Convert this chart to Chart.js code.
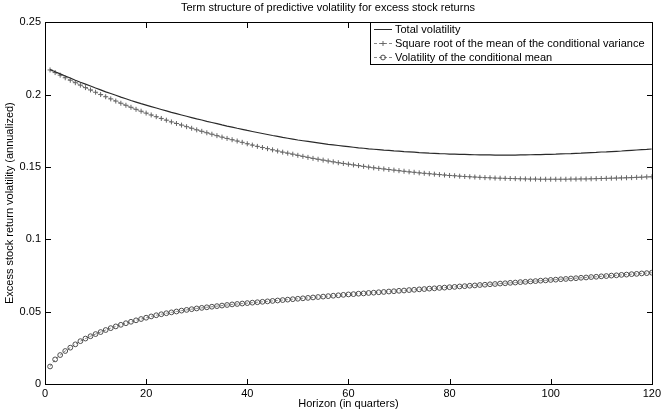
<!DOCTYPE html>
<html>
<head>
<meta charset="utf-8">
<script src="https://cdn.jsdelivr.net/npm/chart.js@4/dist/chart.umd.min.js"></script>
<style>
  html, body { margin: 0; padding: 0; background: #fff; }
  #wrap { position: relative; width: 664px; height: 413px; }
  #volChart, #frameLayer { position: absolute; left: 0; top: 0; }
  #frameLayer { pointer-events: none; }
</style>
</head>
<body>
<div id="wrap">
  <canvas id="volChart" width="664" height="413"></canvas>
  <canvas id="frameLayer" width="664" height="413"></canvas>
</div>
<script>
// horizon in quarters
const horizon = [
  1, 2, 3, 4, 5, 6, 7, 8, 9, 10, 11, 12, 13, 14, 15, 16, 17, 18, 19, 20,
  21, 22, 23, 24, 25, 26, 27, 28, 29, 30, 31, 32, 33, 34, 35, 36, 37, 38, 39, 40,
  41, 42, 43, 44, 45, 46, 47, 48, 49, 50, 51, 52, 53, 54, 55, 56, 57, 58, 59, 60,
  61, 62, 63, 64, 65, 66, 67, 68, 69, 70, 71, 72, 73, 74, 75, 76, 77, 78, 79, 80,
  81, 82, 83, 84, 85, 86, 87, 88, 89, 90, 91, 92, 93, 94, 95, 96, 97, 98, 99, 100,
  101, 102, 103, 104, 105, 106, 107, 108, 109, 110, 111, 112, 113, 114, 115, 116, 117, 118, 119, 120
];

const totalVol = [
  0.2173, 0.2158, 0.2143, 0.2128, 0.2114, 0.2099, 0.2085, 0.2072, 0.2059, 0.2045,
  0.2032, 0.2019, 0.2007, 0.1995, 0.1982, 0.1971, 0.1959, 0.1948, 0.1937, 0.1927,
  0.1917, 0.1907, 0.1897, 0.1887, 0.1877, 0.1868, 0.1859, 0.1850, 0.1841, 0.1832,
  0.1824, 0.1815, 0.1807, 0.1799, 0.1790, 0.1782, 0.1775, 0.1767, 0.1760, 0.1752,
  0.1745, 0.1738, 0.1731, 0.1724, 0.1717, 0.1711, 0.1704, 0.1698, 0.1692, 0.1686,
  0.1681, 0.1676, 0.1671, 0.1666, 0.1661, 0.1656, 0.1652, 0.1648, 0.1644, 0.1640,
  0.1636, 0.1632, 0.1629, 0.1625, 0.1622, 0.1619, 0.1616, 0.1614, 0.1611, 0.1609,
  0.1606, 0.1604, 0.1602, 0.1599, 0.1597, 0.1595, 0.1594, 0.1592, 0.1591, 0.1589,
  0.1588, 0.1587, 0.1586, 0.1585, 0.1584, 0.1583, 0.1583, 0.1583, 0.1582, 0.1582,
  0.1582, 0.1582, 0.1582, 0.1583, 0.1583, 0.1584, 0.1585, 0.1585, 0.1586, 0.1587,
  0.1588, 0.1590, 0.1591, 0.1592, 0.1594, 0.1595, 0.1597, 0.1599, 0.1600, 0.1603,
  0.1604, 0.1606, 0.1608, 0.1610, 0.1613, 0.1615, 0.1617, 0.1619, 0.1621, 0.1624
];

const sqrtMeanVar = [
  0.2170, 0.2152, 0.2134, 0.2116, 0.2099, 0.2082, 0.2065, 0.2048, 0.2032, 0.2016,
  0.2000, 0.1985, 0.1970, 0.1955, 0.1940, 0.1926, 0.1912, 0.1898, 0.1885, 0.1872,
  0.1859, 0.1847, 0.1835, 0.1823, 0.1811, 0.1800, 0.1789, 0.1778, 0.1767, 0.1756,
  0.1746, 0.1736, 0.1726, 0.1716, 0.1706, 0.1697, 0.1688, 0.1679, 0.1670, 0.1660,
  0.1651, 0.1642, 0.1634, 0.1626, 0.1618, 0.1610, 0.1602, 0.1595, 0.1588, 0.1580,
  0.1573, 0.1566, 0.1559, 0.1553, 0.1547, 0.1541, 0.1535, 0.1529, 0.1524, 0.1519,
  0.1514, 0.1509, 0.1504, 0.1499, 0.1494, 0.1490, 0.1486, 0.1482, 0.1478, 0.1474,
  0.1470, 0.1466, 0.1463, 0.1459, 0.1456, 0.1453, 0.1450, 0.1447, 0.1444, 0.1441,
  0.1439, 0.1436, 0.1434, 0.1432, 0.1430, 0.1428, 0.1426, 0.1425, 0.1423, 0.1422,
  0.1421, 0.1420, 0.1419, 0.1418, 0.1417, 0.1416, 0.1416, 0.1415, 0.1415, 0.1415,
  0.1415, 0.1415, 0.1415, 0.1416, 0.1416, 0.1417, 0.1417, 0.1418, 0.1419, 0.1420,
  0.1421, 0.1422, 0.1423, 0.1424, 0.1425, 0.1426, 0.1428, 0.1429, 0.1431, 0.1432
];

const volCondMean = [
  0.0121, 0.0170, 0.0200, 0.0228, 0.0251, 0.0274, 0.0296, 0.0314, 0.0330, 0.0345,
  0.0359, 0.0373, 0.0386, 0.0398, 0.0409, 0.0420, 0.0430, 0.0440, 0.0449, 0.0458,
  0.0467, 0.0475, 0.0482, 0.0489, 0.0495, 0.0501, 0.0507, 0.0512, 0.0517, 0.0522,
  0.0526, 0.0530, 0.0534, 0.0538, 0.0542, 0.0546, 0.0550, 0.0553, 0.0556, 0.0559,
  0.0562, 0.0565, 0.0568, 0.0571, 0.0574, 0.0577, 0.0580, 0.0583, 0.0586, 0.0589,
  0.0592, 0.0595, 0.0598, 0.0601, 0.0604, 0.0607, 0.0610, 0.0613, 0.0616, 0.0619,
  0.0621, 0.0624, 0.0626, 0.0629, 0.0631, 0.0634, 0.0636, 0.0639, 0.0641, 0.0644,
  0.0646, 0.0649, 0.0651, 0.0654, 0.0656, 0.0659, 0.0661, 0.0664, 0.0666, 0.0669,
  0.0671, 0.0674, 0.0676, 0.0679, 0.0681, 0.0684, 0.0686, 0.0689, 0.0691, 0.0694,
  0.0696, 0.0699, 0.0701, 0.0704, 0.0706, 0.0709, 0.0711, 0.0714, 0.0716, 0.0719,
  0.0721, 0.0724, 0.0726, 0.0729, 0.0731, 0.0734, 0.0736, 0.0739, 0.0741, 0.0744,
  0.0746, 0.0749, 0.0751, 0.0754, 0.0756, 0.0759, 0.0761, 0.0764, 0.0766, 0.0769
];

const seriesNames = [
  "Total volatility",
  "Square root of the mean of the conditional variance",
  "Volatility of the conditional mean"
];
const xTicks = [0, 20, 40, 60, 80, 100, 120];
const yTicks = [0, 0.05, 0.1, 0.15, 0.2, 0.25];

const FONT = "'Liberation Sans', Arial, Helvetica, sans-serif";
Chart.defaults.font.family = FONT;
Chart.defaults.font.size = 11;
Chart.defaults.color = "#000";

const LEGEND_LEFT = 370;
const LEGEND_BOTTOM = 64;

function toPoints(values) {
  return values.map((v, i) => ({ x: horizon[i], y: v }));
}

// axes box + inward ticks go on a separate canvas laid over the chart
function drawFrame(chart) {
  const layer = document.getElementById("frameLayer");
  const ctx = layer.getContext("2d");
  const a = chart.chartArea;
  const sx = chart.scales.x, sy = chart.scales.y;
  const L = Math.round(a.left), R = Math.round(a.right);
  const T = Math.round(a.top), B = Math.round(a.bottom);
  ctx.clearRect(0, 0, layer.width, layer.height);
  ctx.fillStyle = "#000";
  ctx.fillRect(L, T, R - L + 1, 1);
  ctx.fillRect(L, B, R - L + 1, 1);
  ctx.fillRect(L, T, 1, B - T + 1);
  ctx.fillRect(R, T, 1, B - T + 1);
  xTicks.forEach((v) => {
    const px = Math.round(sx.getPixelForValue(v));
    ctx.fillRect(px, B - 5, 1, 5);
    if (px < LEGEND_LEFT) ctx.fillRect(px, T + 1, 1, 5);
  });
  yTicks.forEach((v) => {
    const py = Math.round(sy.getPixelForValue(v));
    ctx.fillRect(L + 1, py, 5, 1);
    if (py > LEGEND_BOTTOM) ctx.fillRect(R - 5, py, 5, 1);
  });
}

// legend box in the upper right corner of the axes
const legendBoxPlugin = {
  id: "legendBox",
  afterDraw(chart) {
    const { ctx, chartArea: a } = chart;
    const T = Math.round(a.top) + 0.5, R = Math.round(a.right) + 0.5;
    const boxL = LEGEND_LEFT + 0.5, boxB = LEGEND_BOTTOM + 0.5;
    ctx.save();
    ctx.fillStyle = "#fff";
    ctx.fillRect(boxL, T, R - boxL, boxB - T);
    ctx.strokeStyle = "#000";
    ctx.lineWidth = 1;
    ctx.strokeRect(boxL, T, R - boxL, boxB - T);
    ctx.font = "11px " + FONT;
    ctx.textBaseline = "middle";
    ctx.textAlign = "left";
    chart.data.datasets.forEach((ds, i) => {
      const y = T + 7 + i * 14;
      ctx.strokeStyle = ds.borderColor;
      ctx.lineWidth = 1;
      ctx.setLineDash(ds.borderDash || []);
      ctx.beginPath();
      ctx.moveTo(374, y); ctx.lineTo(392, y);
      ctx.stroke();
      ctx.setLineDash([]);
      if (ds.pointRadius > 0) {
        ctx.strokeStyle = ds.pointBorderColor;
        ctx.fillStyle = "rgba(255,255,255,0)";
        ctx.lineWidth = 1;
        Chart.helpers.drawPoint(ctx, {
          pointStyle: ds.pointStyle, radius: ds.pointRadius, rotation: 0, borderWidth: 1,
        }, 383, y);
      }
      ctx.fillStyle = "#000";
      ctx.fillText(ds.label, 395, y);
    });
    ctx.restore();
    drawFrame(chart);
  },
};

new Chart(document.getElementById("volChart"), {
  type: "line",
  data: {
    datasets: [
      {
        label: seriesNames[0],
        data: toPoints(totalVol),
        borderColor: "#2a2a2a",
        borderWidth: 1.2,
        pointRadius: 0,
        tension: 0,
      },
      {
        label: seriesNames[1],
        data: toPoints(sqrtMeanVar),
        borderColor: "#888",
        borderWidth: 1,
        borderDash: [3, 2],
        pointStyle: "cross",
        pointRadius: 2.5,
        pointBorderWidth: 1,
        pointBorderColor: "#666",
        tension: 0,
      },
      {
        label: seriesNames[2],
        data: toPoints(volCondMean),
        borderColor: "#888",
        borderWidth: 1,
        borderDash: [3, 2],
        pointStyle: "circle",
        pointRadius: 2.4,
        pointBorderWidth: 1,
        pointBorderColor: "#4d4d4d",
        pointBackgroundColor: "rgba(255,255,255,0)",
        tension: 0,
      },
    ],
  },
  options: {
    responsive: false,
    animation: false,
    layout: { padding: { right: 8 } },
    plugins: {
      legend: { display: false },
      tooltip: { enabled: false },
      title: {
        display: true,
        text: "Term structure of predictive volatility for excess stock returns",
        font: { size: 11, weight: "normal" },
        color: "#000",
        padding: { top: 1, bottom: 8 },
      },
    },
    scales: {
      x: {
        type: "linear",
        min: 0,
        max: 120,
        afterBuildTicks: (s) => { s.ticks = xTicks.map((v) => ({ value: v })); },
        afterFit: (s) => { s.height = 29; },
        grid: { display: false, drawTicks: false },
        border: { display: false },
        ticks: { padding: 3, maxRotation: 0, autoSkip: false, color: "#000" },
        title: { display: true, text: "Horizon (in quarters)", padding: { top: 0, bottom: 2 }, color: "#000" },
      },
      y: {
        min: 0,
        max: 0.25,
        afterBuildTicks: (s) => { s.ticks = yTicks.map((v) => ({ value: v })); },
        afterFit: (s) => { s.width = 45; },
        grid: { display: false, drawTicks: false },
        border: { display: false },
        ticks: { padding: 4, autoSkip: false, color: "#000", callback: (v) => String(v) },
        title: { display: true, text: "Excess stock return volatility (annualized)", padding: { top: 3, bottom: 0 }, color: "#000" },
      },
    },
  },
  plugins: [legendBoxPlugin],
});
</script>
</body>
</html>
